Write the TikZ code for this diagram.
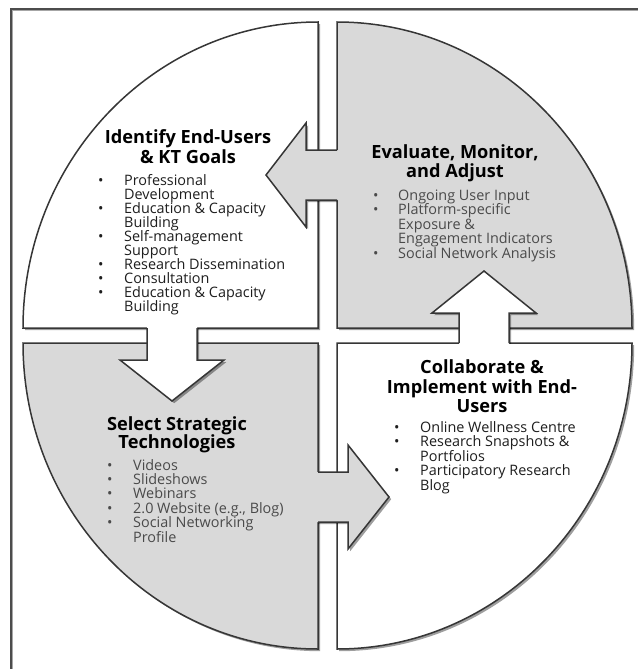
\documentclass[tikz,border=0pt]{standalone}
\usepackage{fontspec}
\setmainfont{Open Sans}
\usetikzlibrary{shadows}
\definecolor{qgray}{HTML}{D9D9D9}
\definecolor{qline}{HTML}{363636}
\definecolor{txtdark}{HTML}{1E1E1E}
\definecolor{txtgray}{HTML}{4A4A4A}
\begin{document}
\begin{tikzpicture}[x=1pt,y=-1pt,
  quad/.style={draw=qline, line width=1.5pt, line join=miter,
    drop shadow={shadow xshift=2.2pt, shadow yshift=-2.2pt, fill=black, opacity=0.38}},
  ashadow/.style={fill=black, opacity=0.38, shift={(2.2pt,-2.2pt)}},
  aline/.style={draw=qline, line width=1.5pt, line join=miter},
  ttl/.style={anchor=base, inner sep=0pt, font=\bfseries\fontsize{18.2}{20}\selectfont, text=black},
  ltxt/.style={anchor=base west, inner sep=0pt, font=\fontsize{14.4}{14}\selectfont},
  lbul/.style={anchor=base west, inner sep=0pt, font=\fontsize{14.4}{14}\selectfont}
]
\useasboundingbox (0,0) rectangle (638,669);
\fill[white] (0,0) rectangle (638,669);
% frame
\draw[black!35, line width=1pt] (12.8,669) -- (12.8,11) -- (638,11);
\draw[black!70, line width=2pt] (11,669) -- (11,9.2) -- (638,9.2);
% quadrants
\path[quad, fill=white] (318,22) -- (318,328) -- (23,328)
  arc[start angle=180, end angle=90, x radius=295pt, y radius=306pt] -- cycle;
\path[quad, fill=qgray] (337,328) -- (337,22)
  arc[start angle=90, end angle=0, x radius=295pt, y radius=306pt] -- cycle;
\path[quad, fill=white] (337,343) -- (632,343)
  arc[start angle=0, end angle=-90, x radius=295pt, y radius=306pt] -- cycle;
\path[quad, fill=qgray] (318,343) -- (318,649)
  arc[start angle=270, end angle=180, x radius=295pt, y radius=306pt] -- cycle;
% left arrow (TR -> TL)
\begin{scope}
  \clip (0,0) rectangle (337,669);
  \fill[ashadow] (341,150) -- (306,150) -- (306,123) -- (266,175) -- (306,227) -- (306,200) -- (341,200) -- cycle;
\end{scope}
\fill[qgray] (341,150) -- (306,150) -- (306,123) -- (266,175) -- (306,227) -- (306,200) -- (341,200) -- cycle;
\draw[aline] (337,150) -- (306,150) -- (306,123) -- (266,175) -- (306,227) -- (306,200) -- (337,200);
% up arrow (BR -> TR)
\begin{scope}
  \clip (0,0) rectangle (638,343);
  \fill[ashadow] (459,347) -- (459,313) -- (432,313) -- (484,271) -- (536,313) -- (509,313) -- (509,347) -- cycle;
\end{scope}
\fill[white] (459,347) -- (459,313) -- (432,313) -- (484,271) -- (536,313) -- (509,313) -- (509,347) -- cycle;
\draw[aline] (459,343) -- (459,313) -- (432,313) -- (484,271) -- (536,313) -- (509,313) -- (509,343);
% down arrow (TL -> BL)
\begin{scope}
  \clip (0,328) rectangle (638,669);
  \fill[ashadow] (147,324) -- (147,360) -- (120,360) -- (172,401) -- (224,360) -- (197,360) -- (197,324) -- cycle;
\end{scope}
\fill[white] (147,324) -- (147,360) -- (120,360) -- (172,401) -- (224,360) -- (197,360) -- (197,324) -- cycle;
\draw[aline] (147,328) -- (147,360) -- (120,360) -- (172,401) -- (224,360) -- (197,360) -- (197,328);
% right arrow (BL -> BR)
\begin{scope}
  \clip (318,0) rectangle (638,669);
  \fill[ashadow] (314,472) -- (348,472) -- (348,445) -- (389,497) -- (348,549) -- (348,522) -- (314,522) -- cycle;
\end{scope}
\fill[qgray] (314,472) -- (348,472) -- (348,445) -- (389,497) -- (348,549) -- (348,522) -- (314,522) -- cycle;
\draw[aline] (318,472) -- (348,472) -- (348,445) -- (389,497) -- (348,549) -- (348,522) -- (318,522);
% titles
\node[ttl] (tlh1) at (188,143) {Identify End-Users};
\node[ttl] (tlh2) at (188,163) {\& KT Goals};
\node[ttl] (trh1) at (455,158) {Evaluate, Monitor,};
\node[ttl] (trh2) at (455,177) {and Adjust};
\node[ttl] (blh1) at (177,430) {Select Strategic};
\node[ttl] (blh2) at (177,448) {Technologies};
\node[ttl] (brh1) at (482,373) {Collaborate \&};
\node[ttl] (brh2) at (482,393) {Implement with End-};
\node[ttl] (brh3) at (482,412) {Users};
% lists
\foreach \b/\t [count=\i] in {1/Professional, 0/Development, 1/Education \& Capacity, 0/Building, 1/Self-management, 0/Support, 1/Research Dissemination, 1/Consultation, 1/Education \& Capacity, 0/Building}{
  \node[ltxt, text=txtdark] (tlt\i) at (124,{185+14.1*(\i-1)}) {\t};
  \ifnum\b=1 \node[lbul, text=txtdark] (tlb\i) at (98,{185+14.1*(\i-1)}) {•};\fi
}
\foreach \b/\t [count=\i] in {1/Ongoing User Input, 1/Platform-specific, 0/Exposure \&, 0/Engagement Indicators, 1/Social Network Analysis}{
  \node[ltxt, text=txtgray] (trt\i) at (398,{200+14.5*(\i-1)}) {\t};
  \ifnum\b=1 \node[lbul, text=txtgray] (trb\i) at (373,{200+14.5*(\i-1)}) {•};\fi
}
\foreach \b/\t [count=\i] in {1/Videos, 1/Slideshows, 1/Webinars, 1/{2.0 Website (e.g., Blog)}, 1/Social Networking, 0/Profile}{
  \node[ltxt, text=txtgray] (blt\i) at (133,{470+14.4*(\i-1)}) {\t};
  \ifnum\b=1 \node[lbul, text=txtgray] (blb\i) at (107,{470+14.4*(\i-1)}) {•};\fi
}
\foreach \b/\t [count=\i] in {1/Online Wellness Centre, 1/Research Snapshots \&, 0/Portfolios, 1/Participatory Research, 0/Blog}{
  \node[ltxt, text=txtdark] (brt\i) at (420,{432+14.5*(\i-1)}) {\t};
  \ifnum\b=1 \node[lbul, text=txtdark] (brb\i) at (394,{432+14.5*(\i-1)}) {•};\fi
}
\end{tikzpicture}
\end{document}
